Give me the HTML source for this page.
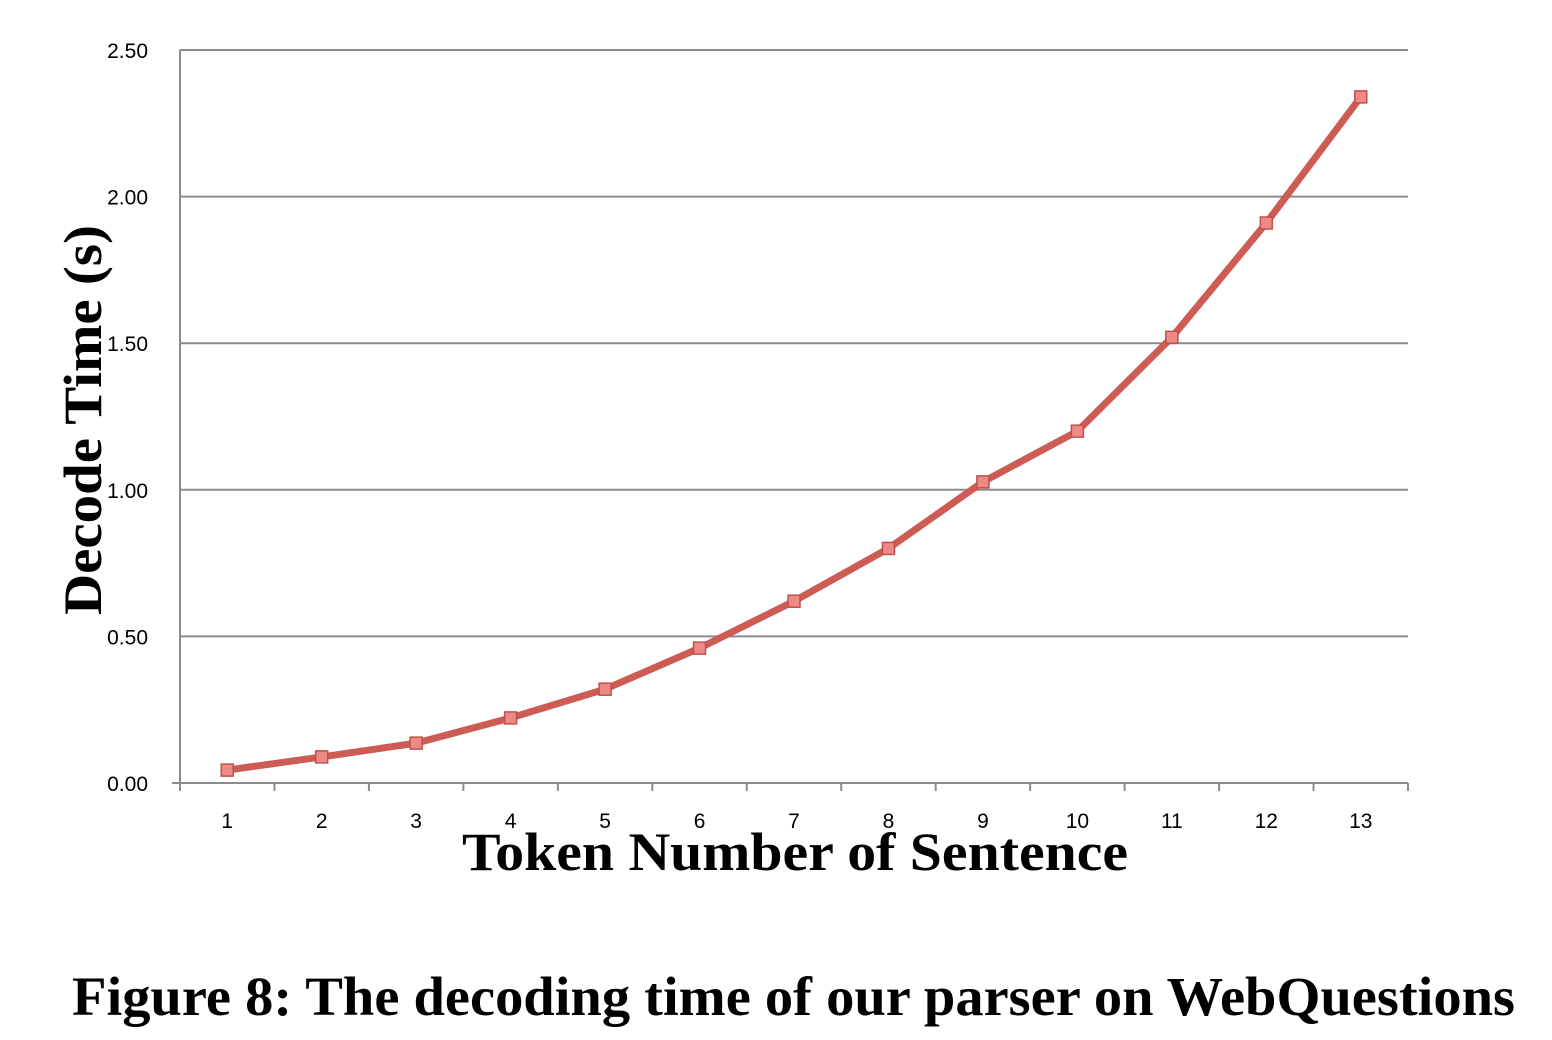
<!DOCTYPE html>
<html><head><meta charset="utf-8"><style>
html,body{margin:0;padding:0;background:#fff;}
svg{display:block;}
</style></head><body>
<svg id="chart" width="1552" height="1040" xmlns="http://www.w3.org/2000/svg">
<text x="72" y="1015" textLength="1443" lengthAdjust="spacingAndGlyphs" font-family="Liberation Serif, serif" font-weight="bold" font-size="55">Figure 8: The decoding time of our parser on WebQuestions</text>
<text x="462" y="870" textLength="666" lengthAdjust="spacingAndGlyphs" font-family="Liberation Serif, serif" font-weight="bold" font-size="54">Token Number of Sentence</text>
<text transform="translate(101,615) rotate(-90)" textLength="390" lengthAdjust="spacingAndGlyphs" font-family="Liberation Serif, serif" font-weight="bold" font-size="54">Decode Time (s)</text>
</svg>
<script>
const categories = ["1","2","3","4","5","6","7","8","9","10","11","12","13"];
const decodeTimes = [0.044,0.089,0.136,0.222,0.32,0.46,0.62,0.80,1.027,1.20,1.52,1.91,2.34];
const yTicks = [0,0.5,1.0,1.5,2.0,2.5];
const yTickLabels = ["0.00","0.50","1.00","1.50","2.00","2.50"];

const svgEl = document.getElementById('chart');
const NS = 'http://www.w3.org/2000/svg';
const plotLeft = 180, plotRight = 1408, plotTop = 50, plotBottom = 783, yMax = 2.5;
const band = (plotRight - plotLeft) / categories.length;
const xPos = i => plotLeft + band * (i + 0.5);
const yPos = v => plotBottom - (v / yMax) * (plotBottom - plotTop);
function mk(tag, attrs){const e=document.createElementNS(NS,tag);for(const k in attrs)e.setAttribute(k,attrs[k]);svgEl.appendChild(e);return e;}

yTicks.forEach((t,i)=>{
  if(t>0){
    const g = mk('line',{x1:plotLeft,x2:plotRight,y1:yPos(t),y2:yPos(t),stroke:'#8c8c8c','stroke-width':2});
    
    
  }
  const lb = mk('text',{x:148,y:yPos(t)+8,'text-anchor':'end','font-family':'Liberation Sans, sans-serif','font-size':21});
  lb.textContent = yTickLabels[i];
  
  
});
const ya = mk('line',{x1:plotLeft,x2:plotLeft,y1:plotTop,y2:plotBottom+4,stroke:'#8c8c8c','stroke-width':2});


const xa = mk('line',{x1:plotLeft-8,x2:plotRight,y1:plotBottom,y2:plotBottom,stroke:'#8c8c8c','stroke-width':2});


for(let i=0;i<=categories.length;i++){
  const tk = mk('line',{x1:plotLeft+band*i,x2:plotLeft+band*i,y1:plotBottom,y2:plotBottom+8,stroke:'#8c8c8c','stroke-width':2});
  
  
}
categories.forEach((c,i)=>{
  const t = mk('text',{x:xPos(i),y:828,'text-anchor':'middle','font-family':'Liberation Sans, sans-serif','font-size':21});
  t.textContent = c;
  
  
});
const pts = decodeTimes.map((v,i)=>xPos(i)+','+yPos(v)).join(' ');
const line = mk('polyline',{points:pts,fill:'none',stroke:'#cd5c55','stroke-width':7,'stroke-linejoin':'round','stroke-linecap':'round'});


decodeTimes.forEach((v,i)=>{
  const m = mk('rect',{x:xPos(i)-6,y:yPos(v)-6,width:12,height:12,fill:'#ee8a85',stroke:'#c0504d','stroke-width':1.5});
  
  
});
</script>
</body></html>
